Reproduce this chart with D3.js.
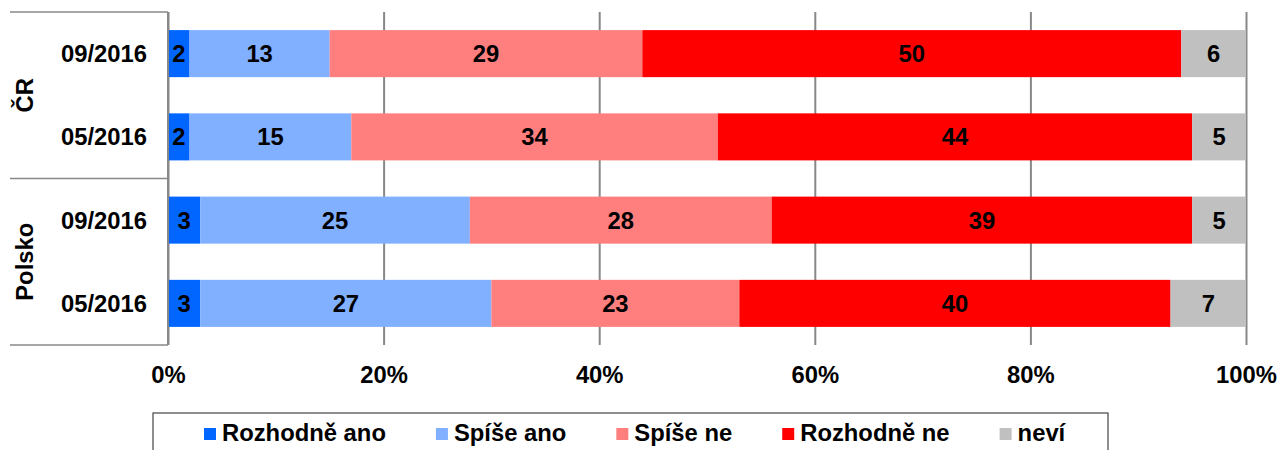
<!DOCTYPE html>
<html>
<head>
<meta charset="utf-8">
<script src="https://cdn.jsdelivr.net/npm/d3@7"></script>
<style>
  body { margin: 0; background: #fff; }
  text { font-family: "Liberation Sans", Arial, sans-serif; font-weight: bold; }
</style>
</head>
<body>
<div id="chart"></div>
<script>
// 数据
const groups = ['ČR', 'Polsko'];
const rows = ['ČR 09/2016', 'ČR 05/2016', 'Polsko 09/2016', 'Polsko 05/2016'];
const rowLabels = ['09/2016', '05/2016', '09/2016', '05/2016'];
const series = ['Rozhodně ano', 'Spíše ano', 'Spíše ne', 'Rozhodně ne', 'neví'];
const rozhodneAno = [2, 2, 3, 3];
const spiseAno = [13, 15, 25, 27];
const spiseNe = [29, 34, 28, 23];
const rozhodneNe = [50, 44, 39, 40];
const nevi = [6, 5, 5, 7];
const xTicks = [0, 20, 40, 60, 80, 100];
const colors = ['#0066ff', '#80b0ff', '#ff7f7f', '#ff0000', '#c0c0c0'];

const W = 1277, H = 450;
const plotLeft = 168, plotRight = 1246, plotTop = 12, plotBottom = 345;
const fs = '23.8px';

const svg = d3.select('#chart').append('svg')
    .attr('width', W).attr('height', H);

const x = d3.scaleLinear().domain([0, 100]).range([plotLeft, plotRight]);
const y = d3.scaleBand().domain(rows).range([plotTop, plotBottom])
    .paddingInner(0.435).paddingOuter(0.2175);

// 网格线 + X轴
const xAxis = svg.append('g')
    .attr('transform', `translate(0,${plotBottom})`)
    .call(d3.axisBottom(x).tickValues(xTicks)
        .tickSize(-(plotBottom - plotTop)).tickPadding(21)
        .tickFormat(d => d + '%'));
xAxis.select('.domain').remove();
xAxis.selectAll('.tick line').attr('stroke', '#888').attr('stroke-width', 2);
xAxis.selectAll('text').attr('fill', '#000')
    .style('font-size', fs).style('font-family', '"Liberation Sans", Arial, sans-serif')
    .style('font-weight', 'bold');

// 堆叠数据
const table = rows.map((r, i) => ({
    row: r,
    'Rozhodně ano': rozhodneAno[i],
    'Spíše ano': spiseAno[i],
    'Spíše ne': spiseNe[i],
    'Rozhodně ne': rozhodneNe[i],
    'neví': nevi[i]
}));
const stacked = d3.stack().keys(series)(table);

const layer = svg.append('g').selectAll('g')
    .data(stacked).enter().append('g')
    .attr('fill', (d, i) => colors[i]);

layer.selectAll('rect')
    .data(d => d).enter().append('rect')
    .attr('x', d => x(d[0]))
    .attr('y', d => y(d.data.row))
    .attr('width', d => x(d[1]) - x(d[0]))
    .attr('height', y.bandwidth());

layer.selectAll('text')
    .data(d => d).enter().append('text')
    .attr('x', d => (x(d[0]) + x(d[1])) / 2)
    .attr('y', d => y(d.data.row) + y.bandwidth() / 2)
    .attr('dy', '0.36em')
    .attr('text-anchor', 'middle')
    .attr('fill', '#000')
    .style('font-size', fs)
    .text(d => d[1] - d[0]);

// 左侧轴线和分组线
svg.append('line')
    .attr('x1', plotLeft).attr('x2', plotLeft).attr('y1', plotTop).attr('y2', plotBottom)
    .attr('stroke', '#888').attr('stroke-width', 2);
[plotTop, (plotTop + plotBottom) / 2, plotBottom].forEach(v => {
    svg.append('line')
        .attr('x1', 10).attr('x2', plotLeft).attr('y1', v).attr('y2', v)
        .attr('stroke', '#888').attr('stroke-width', 1.5);
});

// 行标签
svg.selectAll('.row-label')
    .data(rows).enter().append('text')
    .attr('class', 'row-label')
    .attr('x', 147)
    .attr('y', d => y(d) + y.bandwidth() / 2)
    .attr('dy', '0.36em')
    .attr('text-anchor', 'end')
    .style('font-size', fs)
    .text((d, i) => rowLabels[i]);

// 分组标签
const groupH = (plotBottom - plotTop) / groups.length;
svg.selectAll('.group-label')
    .data(groups).enter().append('text')
    .attr('class', 'group-label')
    .attr('transform', (d, i) => `translate(33,${plotTop + groupH * (i + 0.5)}) rotate(-90)`)
    .attr('text-anchor', 'middle')
    .style('font-size', fs)
    .text(d => d);

// 图例
svg.append('rect')
    .attr('x', 153).attr('y', 413).attr('width', 955).attr('height', 60)
    .attr('fill', 'none').attr('stroke', '#444').attr('stroke-width', 1.2);

let lx = 204;
series.forEach((s, i) => {
    const g = svg.append('g').attr('transform', `translate(${lx},428)`);
    g.append('rect').attr('width', 12).attr('height', 12).attr('fill', colors[i]);
    const t = g.append('text').attr('x', 18).attr('y', 13)
        .style('font-size', fs).text(s);
    lx += 18 + t.node().getComputedTextLength() + 50;
});
</script>
</body>
</html>
